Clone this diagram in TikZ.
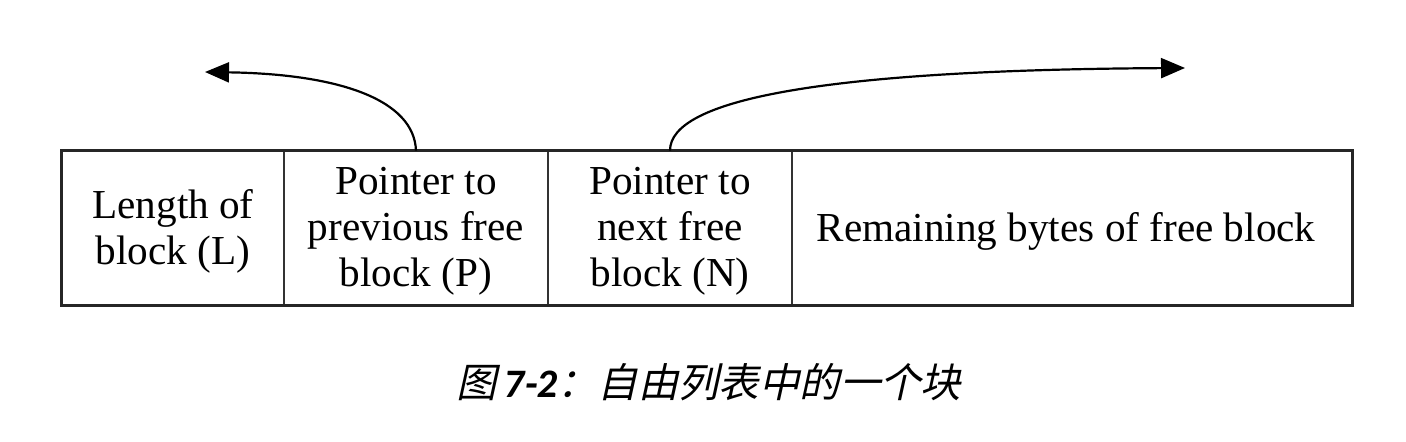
\documentclass[tikz,border=0pt]{standalone}
\usepackage{fontspec}
\setmainfont{Liberation Serif}
\newfontfamily\cjk[FakeSlant=0.22]{Noto Sans CJK SC}
\newfontfamily\capnum[FakeSlant=0.12]{Carlito}
\usetikzlibrary{arrows.meta}
\begin{document}
\begin{tikzpicture}[x=0.5pt,y=-0.5pt,
  cell/.style={inner sep=0pt, minimum height=77pt},
  txt/.style={inner sep=0pt, align=center, font=\fontsize{20.6}{23}\selectfont},
  outer/.style={line width=1.5pt, draw=black!85},
  divider/.style={line width=1pt, draw=black!80},
  ptr/.style={line width=1.1pt, -{Triangle[length=12pt,width=10pt]}}]
\useasboundingbox (0,0) rectangle (1406,442);
\node[cell, minimum width=111pt] (L) at (173,228) {};
\node[cell, minimum width=132pt] (P) at (416,228) {};
\node[cell, minimum width=122pt] (N) at (670,228) {};
\node[cell, minimum width=280pt] (R) at (1072,228) {};
\node[txt] (Lt) at ([yshift=-1.5pt]L.center) {Length of\\block (L)};
\node[txt] (Pt) at ([yshift=-1.5pt]P.center) {Pointer to\\previous free\\block (P)};
\node[txt] (Nt) at ([yshift=-1.5pt]N.center) {Pointer to\\next free\\block (N)};
\node[txt] (Rt) at ([yshift=-1.5pt,xshift=-3pt]R.center) {Remaining bytes of free block};
\draw[divider] (L.north east) -- (L.south east);
\draw[divider] (P.north east) -- (P.south east);
\draw[divider] (N.north east) -- (N.south east);
\draw[outer] (L.north west) rectangle (R.south east);
\coordinate (pt) at (205,72);
\coordinate (nt) at (1185,68);
\draw[ptr] (P.north) .. controls (414,100) and (340,74) .. (pt);
\draw[ptr] (N.north) .. controls (670,100) and (820,70) .. (nt);
\node[inner sep=0pt, font=\fontsize{20.2}{23}\selectfont] (cap) at (709,382) {{\cjk 图}\,{\capnum\bfseries 7-2}{\cjk ：自由列表中的一个块}};
\end{tikzpicture}
\end{document}
